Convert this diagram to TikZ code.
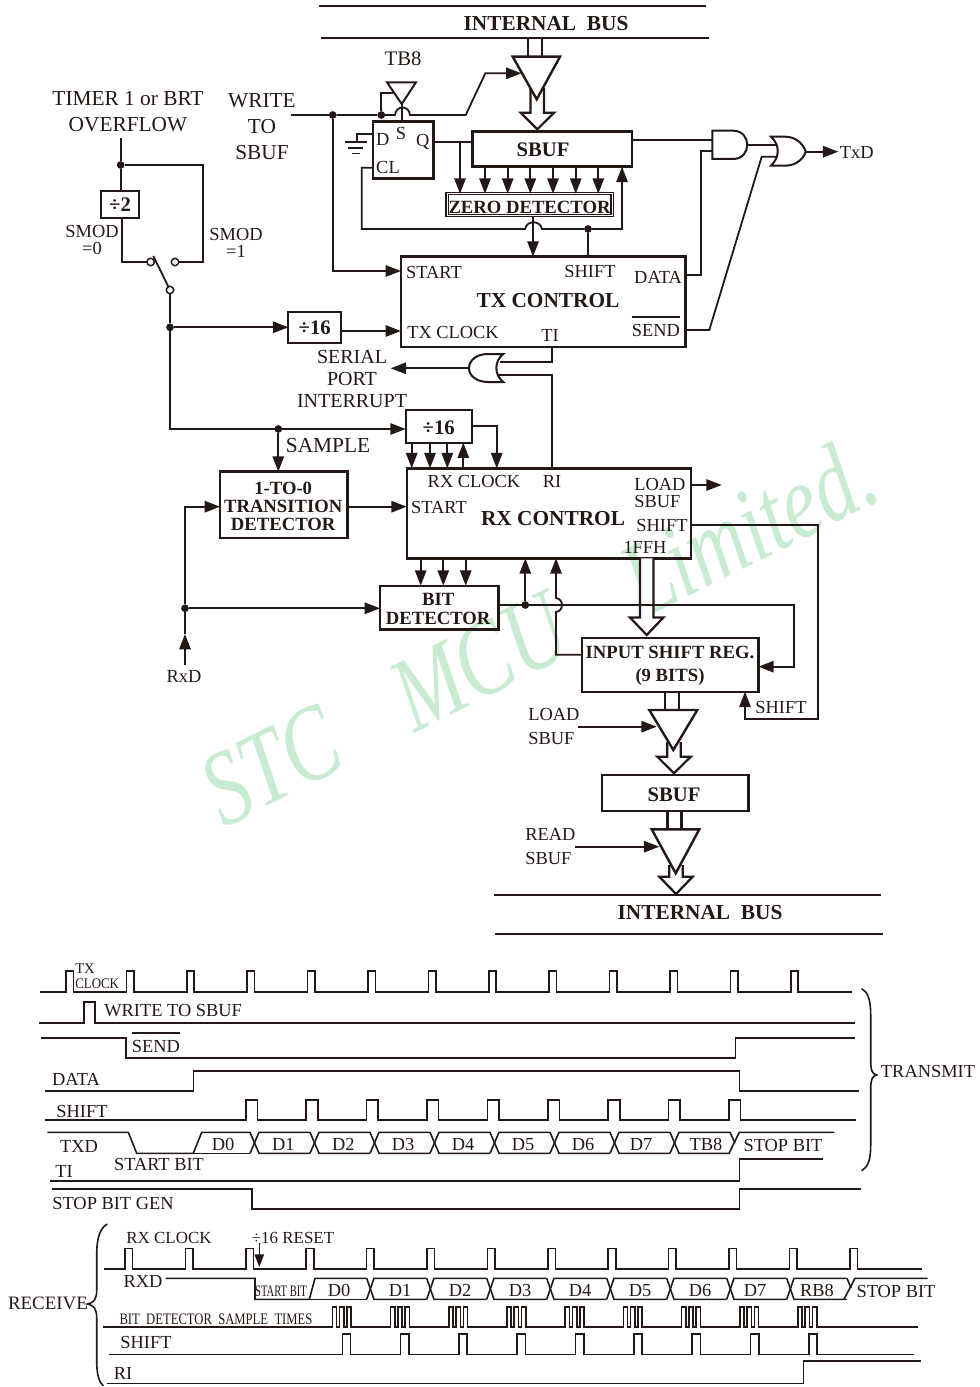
\documentclass[tikz,border=0pt]{standalone}
\usepackage{fontspec}
\setmainfont{Liberation Serif}
\usetikzlibrary{arrows.meta, positioning, calc}
\definecolor{ink}{HTML}{231815}
\definecolor{softmint}{HTML}{C9EBD2}
\newcommand{\hollowarrow}[4]{\draw[bigline, fill=white] ({#1-6.7},#2) -- ({#1-6.7},#3) -- ({#1-16.7},#3) -- (#1,#4) -- ({#1+16.7},#3) -- ({#1+6.7},#3) -- ({#1+6.7},#2);}
\newcommand{\busstem}[3]{\draw[bigline] ({#1-7},#2) -- ({#1-7},#3) ({#1+7},#2) -- ({#1+7},#3);}

\begin{document}
\begin{tikzpicture}[
  x=.75pt, y=-.75pt,
  wh/.style 2 args={minimum width=#1*.75pt, minimum height=#2*.75pt},
  box/.style={draw=ink, line width=1.8pt, rectangle, inner sep=0pt, outer sep=0pt},
  lab/.style={inner sep=0pt, text=ink, font=\fontsize{13.8}{15}\selectfont},
  blab/.style={inner sep=0pt, text=ink, align=center, font=\fontsize{14}{15}\selectfont\bfseries},
  divlab/.style={inner sep=0pt, text=ink, font=\fontsize{15.5}{17}\selectfont\bfseries},
  biglab/.style={inner sep=0pt, text=ink, font=\fontsize{16}{17}\selectfont\bfseries},
  wide/.style={inner sep=0pt, text=ink, align=center, font=\fontsize{16}{17}\selectfont},
  bitlab/.style={lab, anchor=base},
  dot/.style={circle, fill=ink, inner sep=0pt, outer sep=0pt, minimum size=5.8pt},
  contact/.style={circle, draw=ink, fill=white, line width=1.1pt, inner sep=0pt, outer sep=0pt, minimum size=5.6pt},
  wire/.style={draw=ink, line width=1.35pt},
  wave/.style={draw=ink, line width=1.2pt},
  bigline/.style={draw=ink, line width=1.7pt},
  gate/.style={draw=ink, line width=1.5pt, fill=white},
  >={Triangle[length=11.5pt, width=8.5pt]}
]
\useasboundingbox (0,0) rectangle (979,1387);

% watermark
\node[rotate=26.5, text=softmint, font=\fontsize{80}{80}\selectfont\itshape] (mark) at (538,631) {\scalebox{.76}[1]{STC\hspace*{72pt}MCU\hspace*{76pt}Limited.}};

% boxes
\node[box, wh={159.7}{35}] (sbuf) at (552.2,149.2) {};
\node[box, wh={165}{22}, double, double distance=.7pt, line width=1pt] (zd) at (529.5,204.7) {};
\node[box, wh={60.6}{57}] (ff) at (403,150.2) {};
\node[box, wh={284.7}{90}] (tx) at (543.3,301.7) {};
\node[box, wh={38.6}{27.3}, line width=1.3pt] (div2) at (120,204.3) {};
\node[box, wh={52.7}{31}, line width=1.3pt] (diva) at (314.7,327.2) {};
\node[box, wh={66}{32.7}, line width=1.3pt] (divb) at (438.7,426.3) {};
\node[box, wh={284}{90}] (rx) at (548.7,513.3) {};
\node[box, wh={127.3}{66.3}] (trans) at (283.7,504.8) {};
\node[box, wh={118.3}{43.6}] (bit) at (439.2,607.5) {};
\node[box, wh={176.6}{54}] (isr) at (670,664.7) {};
\node[box, wh={146.6}{36}] (sbufb) at (675,793) {};

% junctions and free ends
\coordinate (wrin) at (291,115);
\coordinate (tbapex) at (401.7,104);
\coordinate (qj) at (460,141.7);
\coordinate (zdj) at (533,229);
\coordinate (tmr) at (120.7,138.3);
\coordinate (tij) at (552.3,361.7);
\coordinate (rij) at (552.3,374.7);
\coordinate (intout) at (469,368.3);
\coordinate (andout) at (747.3,144.7);
\coordinate (orout) at (805.7,151.7);
\coordinate (rxdin) at (185,665);
\coordinate (rxdup) at (185,634);
\node[dot] (dwr) at (332.7,115) {};
\node[dot] (den) at (381.3,115) {};
\node[dot] (dsh) at (588,229) {};
\node[dot] (dtm) at (120.7,165) {};
\node[dot] (dsw) at (170,327.3) {};
\node[dot] (dsm) at (278.3,429) {};
\node[dot] (drx) at (185,608.3) {};
\node[dot] (dbit) at (525.3,605) {};

% upper bus and transmit buffer
\draw[bigline] (319,6) -- (706,6);
\draw[bigline] (321,38) -- (709,38);
\node[biglab] (bustop) at (546,23.5) {INTERNAL\ \ BUS};
\busstem{535}{38}{57}
\hollowarrow{537.3}{88}{112.7}{129.3}
\draw[gate, line width=1.8pt] (512.7,56.7) -- (560,56.7) -- (536.7,99.3) -- cycle;
\draw[gate] (387,82.3) -- (416,82.3) -- (tbapex) -- cycle;

% write line and flip flop
\draw[wire, ->] (wrin) -- (dwr) -- (den) -- (395,115) .. controls (396,105) and (409,105) .. (410,115) -- (465.7,115) -- (485.3,73.3) -- (521.5,73.3);
\draw[wire, ->] (dwr) |- (tx.west |- 0,271);
\draw[wire] (den) |- (393.3,93.3);
\draw[wire] (tbapex) -- (tbapex |- ff.north);
\draw[wire] (ff.east |- qj) -- (sbuf.west |- qj);
\draw[wire, ->] (qj) -- (qj |- zd.north);
\foreach \x in {485,507.7,530.3,553,575.7,598.3}
  \draw[wire, ->] (\x,0 |- sbuf.south) -- (\x,0 |- zd.north);
\draw[wire, ->] (ff.west |- 0,167.7) -- (361.7,167.7) -- (361.7,229) -- (525,229) .. controls (527,220) and (540,220) .. (542,229) -- (dsh) -- (622,229) -- (622,0 |- sbuf.south);
\draw[wire, ->] (zd.south -| zdj) -- (zdj |- tx.north);
\draw[wire] (dsh) -- (dsh |- tx.north);
\draw[wire] (ff.west |- 0,134) -| (356.7,142);
\draw[wire] (345,142) -- (366.7,142) (348,148) -- (363,148) (352,153.5) -- (360,153.5);

% output gates
\draw[wire] (sbuf.east |- 0,140) -- (712.3,140);
\draw[wire] (tx.east |- 0,275) -| (700.7,150.7) -- (712.3,150.7);
\draw[wire] (andout) -- (776,144.7);
\draw[wire] (tx.east |- 0,330) -- (709.3,330) -- (761.7,156.7) -- (777,156.7);
\draw[wire, ->] (orout) -- (838.3,151.7);
\draw[gate] (733,130.7) -- (712.3,130.7) -- (712.3,159) -- (733,159) .. controls (752,159) and (752,130.7) .. (733,130.7) -- cycle;
\draw[gate] (771,136.7) -- (785,136.7) .. controls (795,136.7) and (803,143) .. (orout) .. controls (803,160) and (795,165.7) .. (785,165.7) -- (771,165.7) .. controls (780,157) and (780,145) .. (771,136.7) -- cycle;

% baud rate selector
\node[contact] (swl) at (150.7,262) {};
\node[contact] (swr) at (175,262) {};
\node[contact] (swo) at (170,290) {};
\draw[wire] (tmr) -- (dtm) -- (dtm |- div2.north);
\draw[wire] (dtm) -| (203.3,262) -- (swr);
\draw[wire] (121.7,0 |- div2.south) -- (121.7,262) -- (swl);
\draw[wire] (153.3,256) -- (swo);
\draw[wire] (swo) -- (dsw);
\draw[wire, ->] (dsw) -- (diva.west |- dsw);
\draw[wire, ->] (dsw) |- (divb.west |- dsm);
\draw[wire, ->] (diva.east |- 0,331) -- (tx.west |- 0,331);
\draw[wire, ->] (dsm) -- (dsm |- trans.north);

% interrupt gate
\draw[wire] (tx.south -| tij) -- (tij) -- (500,361.7);
\draw[wire] (rx.north -| rij) -- (rij) -- (498,374.7);
\draw[wire, ->] (intout) -- (390.7,368.3);
\draw[gate] (503.3,354) -- (488,354) .. controls (477,354) and (469,360) .. (intout) .. controls (469,376) and (477,382) .. (488,382) -- (503.3,382) .. controls (494,375) and (494,361) .. (503.3,354) -- cycle;

% receive side
\foreach \x in {411.7,430,447.3}
  \draw[wire, ->] (\x,0 |- divb.south) -- (\x,0 |- rx.north);
\draw[wire, ->] (463.3,0 |- rx.north) -- (463.3,0 |- divb.south);
\draw[wire, ->] (divb.east |- 0,426) -| (496.7,0 |- rx.north);
\draw[wire, ->] (rxdin) -- (rxdup);
\draw[wire] (rxdup) -- (drx);
\draw[wire, ->] (drx) |- (trans.west |- 0,506.7);
\draw[wire, ->] (drx) -- (bit.west |- drx);
\draw[wire, ->] (trans.east |- 0,506.7) -- (rx.west |- 0,506.7);
\foreach \x in {420.7,443.3,465.7}
  \draw[wire, ->] (\x,0 |- rx.south) -- (\x,0 |- bit.north);
\hollowarrow{646.7}{558.3}{617.5}{635}
\draw[wire, ->] (bit.east |- dbit) -- (794.3,605) -- (794.3,666.7) -- (isr.east |- 0,666.7);
\draw[wire, ->] (dbit) -- (dbit |- rx.south);
\draw[wire, ->] (isr.west |- 0,654.7) -- (556,654.7) -- (556,612) .. controls (564,611) and (564,599) .. (556,598) -- (556,0 |- rx.south);
\draw[wire, ->] (rx.east |- 0,485) -- (721.7,485);
\draw[wire, ->] (rx.east |- 0,525.3) -- (818.3,525.3) -- (818.3,719) -- (745,719) -- (745,0 |- isr.south);

% load and read buffers
\busstem{672}{691.7}{710}
\hollowarrow{674}{742}{756.7}{773.3}
\draw[gate, line width=1.8pt] (649.3,710) -- (697.3,710) -- (673.3,750) -- cycle;
\coordinate (loadin) at (578.3,726.7);
\draw[wire, ->] (loadin) -- (656.7,726.7);
\busstem{674.5}{811}{829.3}
\hollowarrow{676}{865}{876.7}{894}
\draw[gate, line width=1.8pt] (651.7,829.3) -- (699.3,829.3) -- (675.7,873.3) -- cycle;
\coordinate (readin) at (575,846.7);
\draw[wire, ->] (readin) -- (659.3,846.7);
\draw[bigline] (494,895) -- (880.7,895);
\draw[bigline] (495,934) -- (883,934);
\node[biglab] (busbot) at (700,912.5) {INTERNAL\ \ BUS};

% block labels
\node[wide] (lbtimer) at (128,112) {TIMER 1 or BRT\\[2.5pt]OVERFLOW};
\node[wide] (lbwrite) at (262,127) {WRITE\\[2.5pt]TO\\[2.5pt]SBUF};
\node[lab, font=\fontsize{15.5}{16}\selectfont] (lbtb8) at (403,59) {TB8};
\node[lab, align=center] (lbsa) at (92,240) {SMOD\\[-2pt]=0};
\node[lab, align=center] (lbsb) at (236,243) {SMOD\\[-2pt]=1};
\node[lab] (lbd) at (382.7,139) {D};
\node[lab] (lbs) at (401,134) {S};
\node[lab] (lbq) at (422.7,142) {Q};
\node[lab] (lbcl) at (388,168) {CL};
\node[divlab] (lbsbuf) at (543,150) {SBUF};
\node[blab] (lbzd) at (529.5,207) {ZERO DETECTOR};
\node[divlab] (lbdiv2) at (120,205) {÷2};
\node[divlab] (lbdiva) at (314.7,327.5) {÷16};
\node[divlab] (lbdivb) at (438.7,428) {÷16};
\node[lab] (lbtxd) at (856.7,152) {TxD};
\node[lab] (lbstart) at (434,272) {START};
\node[lab] (lbshift) at (590,271) {SHIFT};
\node[lab] (lbdata) at (658,277) {DATA};
\node[biglab] (lbtx) at (548,301) {TX CONTROL};
\node[lab] (lbtxc) at (453,332) {TX CLOCK};
\node[lab] (lbti) at (550,335) {TI};
\node[lab] (lbsend) at (656,330) {SEND};
\draw[wire] ([yshift=5pt]lbsend.north west) -- ([yshift=5pt]lbsend.north east);
\node[wide, font=\fontsize{15}{16}\selectfont] (lbint) at (352,379) {SERIAL\\[.5pt]PORT\\[.5pt]INTERRUPT};
\node[wide] (lbsample) at (328,446) {SAMPLE};
\node[lab] (lbrxc) at (474,481) {RX CLOCK};
\node[lab] (lbri) at (552,481) {RI};
\node[lab] (lbrst) at (439,507) {START};
\node[biglab] (lbrx) at (553,519) {RX CONTROL};
\node[lab, align=left, anchor=west] (lbload) at (634,493) {LOAD\\[-2.5pt]SBUF};
\node[lab] (lbrsh) at (662,525) {SHIFT};
\node[lab] (lbffh) at (645,547) {1FFH};
\node[blab, font=\fontsize{14}{13.6}\selectfont\bfseries] (lbtrans) at (283.2,506.5) {1-TO-0\\TRANSITION\\DETECTOR};
\node[blab, font=\fontsize{14}{14.2}\selectfont\bfseries] (lbbit) at (438.2,609) {BIT\\DETECTOR};
\node[blab, font=\fontsize{14}{17.2}\selectfont\bfseries] (lbisr) at (670,665.5) {INPUT SHIFT REG.\\(9 BITS)};
\node[divlab] (lbsbufb) at (674,795) {SBUF};
\node[lab] (lbrxd) at (184,676) {RxD};
\node[lab] (lbish) at (781,707) {SHIFT};
\node[lab, align=left, anchor=west] (lbls) at (528,726.5) {LOAD\\[2.5pt]SBUF};
\node[lab, align=left, anchor=west] (lbrs) at (525,847) {READ\\[3pt]SBUF};

% transmit timing
\draw[wave] (40,991.7) foreach \k in {0,...,12} { -- ({66+60.4*\k},991.7) -- ++(0,-21) -- ++(7.4,0) -- ++(0,21)} -- (852.3,991.7);
\draw[wave] (39.3,1022.7) -- (84,1022.7) -- (84,1001.7) -- (95,1001.7) -- (95,1022.7) -- (855,1022.7);
\draw[wave] (41,1037.7) -- (125.7,1037.7) -- (125.7,1057.7) -- (735.3,1057.7) -- (735.3,1037.7) -- (855.3,1037.7);
\draw[wave] (45,1090.7) -- (193.3,1090.7) -- (193.3,1070.7) -- (739.3,1070.7) -- (739.3,1090.7) -- (859,1090.7);
\draw[wave] (45,1120) foreach \k in {0,...,8} { -- ({245.7+60.4*\k},1120) -- ++(0,-20) -- ++(11.7,0) -- ++(0,20)} -- (856,1120);
\draw[wave] (47.3,1132.3) -- (128.3,1132.3) -- (136.7,1153.3) -- (193.3,1153.3) -- (201.7,1132.3) -- (250,1132.3);
\draw[wave] (193.3,1153.3) -- (250,1153.3);
\foreach \k in {0,...,7} {
  \draw[wave] ({250+60*\k},1132.3) -- ({259+60*\k},1153.3) -- ({310+60*\k},1153.3);
  \draw[wave] ({250+60*\k},1153.3) -- ({259+60*\k},1132.3) -- ({310+60*\k},1132.3);
}
\draw[wave] (729,1153.3) -- (739.3,1132.3) -- (834.3,1132.3);
\draw[wave] (730,1132.3) -- (735,1143);
\draw[wave] (50,1180.7) -- (739.3,1180.7) -- (739.3,1158.7) -- (823.3,1158.7);
\draw[wave] (52,1188.7) -- (251.7,1188.7) -- (251.7,1208.7) -- (739.3,1208.7) -- (739.3,1188.7) -- (860.7,1188.7);
\draw[wave] (861.7,988.7) .. controls (868,992) and (870.7,1000) .. (870.7,1015) -- (870.7,1060) .. controls (870.7,1070) and (872,1074) .. (876.7,1075) .. controls (872,1076) and (870.7,1080) .. (870.7,1090) -- (870.7,1145) .. controls (870.7,1160) and (868,1167) .. (861.7,1170.7);

\node[lab, font=\fontsize{11}{11}\selectfont, align=left, anchor=west] (lbclk) at (75,976) {TX\\[.5pt]\scalebox{.88}[1]{CLOCK}};
\node[lab, anchor=west] (lbwts) at (104,1011) {WRITE TO SBUF};
\node[lab] (lbsnd) at (156,1046) {SEND};
\draw[wire] ([yshift=5pt]lbsnd.north west) -- ([yshift=5pt]lbsnd.north east);
\node[lab] (lbdat) at (76,1079) {DATA};
\node[lab] (lbshf) at (82,1111) {SHIFT};
\node[lab] (lbtxdt) at (79,1146) {TXD};
\foreach \n/\x in {D0/223,D1/283.3,D2/343.3,D3/403,D4/463,D5/523,D6/583,D7/641,TB8/706}
  \node[bitlab] (tx\n) at (\x,1150.5) {\n};
\node[lab] (lbstp) at (783,1145) {STOP BIT};
\node[lab] (lbstb) at (159,1164) {START BIT};
\node[lab] (lbtif) at (64,1171) {TI};
\node[lab] (lbgen) at (113,1203) {STOP BIT GEN};
\node[lab] (lbtrn) at (928,1071) {TRANSMIT};

% receive timing
\draw[wave] (104,1269) foreach \k in {0,...,12} { -- ({125+60.4*\k},1269) -- ++(0,-20.7) -- ++(7.6,0) -- ++(0,20.7)} -- (921.7,1269);
\draw[wave] (165.7,1278.3) -- (255,1278.3) -- (255,1299.3) -- (309.3,1299.3) -- (315,1278.3) -- (366.7,1278.3);
\draw[wave] (309.3,1299.3) -- (366.7,1299.3);
\foreach \k in {0,...,7} {
  \draw[wave] ({366.7+60*\k},1278.3) -- ({374+60*\k},1299.3) -- ({426.7+60*\k},1299.3);
  \draw[wave] ({366.7+60*\k},1299.3) -- ({374+60*\k},1278.3) -- ({426.7+60*\k},1278.3);
}
\draw[wave] (844,1299.3) -- (855,1278.3) -- (927.7,1278.3);
\draw[wave] (847,1278.3) -- (851,1288);
\draw[wave] (103.3,1327) foreach \k in {0,...,8} { -- ({332.3+58.2*\k},1327)
  foreach \p in {0,1,2} { -- ++(0,-20.3) -- ++(4.3,0) -- ++(0,20.3) -- ++(3,0)} } -- (917.7,1327);
\draw[wave] (109,1354.3) foreach \k in {0,...,8} { -- ({342.3+58.3*\k},1354.3) -- ++(0,-20.6) -- ++(8.3,0) -- ++(0,20.6)} -- (914,1354.3);
\draw[wave] (106.7,1383.3) -- (803.3,1383.3) -- (803.3,1361) -- (921,1361);
\draw[wave] (107.3,1224) .. controls (100,1228) and (96.7,1238) .. (96.7,1255) -- (96.7,1290) .. controls (96.7,1299) and (94,1303) .. (87.3,1304) .. controls (94,1305) and (96.7,1309) .. (96.7,1318) -- (96.7,1360) .. controls (96.7,1375) and (99,1382) .. (103.3,1385.7);

\node[lab, font=\fontsize{12.7}{14}\selectfont] (lbrclk) at (169,1238) {RX CLOCK};
\node[lab, font=\fontsize{12.7}{14}\selectfont] (lbreset) at (293,1238) {÷16 RESET};
\coordinate (rstop) at (259.3,1243);
\draw[wave, -{Triangle[length=9.5pt, width=7pt]}] (rstop) -- (259.3,1267);
\node[lab] (lbrrxd) at (143,1281) {RXD};
\node[lab] (lbrst2) at (281,1291) {\fontsize{12}{13}\selectfont\scalebox{.66}[1]{START BIT}};
\foreach \n/\x in {D0/339,D1/400,D2/460,D3/520,D4/580,D5/640,D6/700,D7/755,RB8/817}
  \node[bitlab] (rx\n) at (\x,1296) {\n};
\node[lab] (lbrstp) at (896,1291) {STOP BIT};
\node[lab] (lbsmp) at (216,1319) {\fontsize{12}{13}\selectfont\scalebox{.79}[1]{BIT\ \ DETECTOR\ \ SAMPLE\ \ TIMES}};
\node[lab] (lbrshf) at (146,1342) {SHIFT};
\node[lab] (lbrri) at (123,1373) {RI};
\node[lab, font=\fontsize{14.2}{15}\selectfont] (lbrecv) at (48,1303) {RECEIVE};
\end{tikzpicture}
\end{document}
